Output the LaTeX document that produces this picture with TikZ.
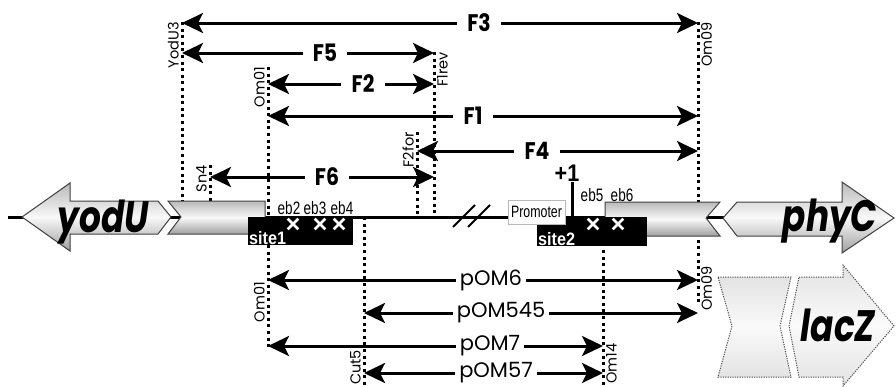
\documentclass[tikz,border=0pt]{standalone}
\usepackage{fontspec}
\setmainfont{Poppins}
\newfontfamily\condfont[FakeStretch=0.85]{Poppins}
\newfontfamily\genefont[FakeStretch=0.78]{Poppins}
\newfontfamily\narrowfont[FakeStretch=0.75]{Liberation Sans}
\newfontfamily\sitefont[FakeStretch=0.9]{Liberation Sans}
\usetikzlibrary{arrows.meta, positioning, shapes.misc}

\tikzset{
  dna/.style={line width=3pt},
  marker/.style={line width=3pt, dash pattern=on 3pt off 3.6pt},
  dim/.style={line width=3pt, -{Stealth[length=21pt, width=20pt, inset=5pt]}},
  flab/.style={fill=white, inner xsep=10pt, inner ysep=1pt, font=\condfont\bfseries\fontsize{24}{24}\selectfont},
  plab/.style={fill=white, inner xsep=4pt, inner ysep=0pt, font=\fontsize{21}{21}\selectfont},
  primer/.style={rotate=90, inner sep=0pt, font=\fontsize{14.5}{14.5}\selectfont},
  gene/.style={draw=black!75, line width=1pt, top color=gray!55, bottom color=gray!75, middle color=gray!5},
  lac/.style={draw=black!70, line width=1pt, dash pattern=on 1.2pt off 1.2pt, top color=gray!22, bottom color=gray!22, middle color=gray!4},
  genename/.style={anchor=base, font=\genefont\bfseries\itshape\fontsize{44}{44}\selectfont},
  site/.style={fill=black, inner sep=0pt, anchor=north west},
  sitelab/.style={text=white, inner sep=1pt, anchor=south west, font=\sitefont\bfseries\fontsize{18}{18}\selectfont},
  eb/.style={inner sep=0pt, font=\narrowfont\fontsize{18}{18}\selectfont},
  mut/.style={cross out, draw=white, line width=2.6pt, minimum size=8pt, inner sep=0pt}
}

\begin{document}
\begin{tikzpicture}[x=1pt, y=-1pt]
\useasboundingbox (0,0) rectangle (896,386);

% primer and clone end points
\coordinate (yodU3) at (182,22);
\coordinate (sn4) at (210,165);
\coordinate (om01) at (268,67);
\coordinate (cut5) at (364,217);
\coordinate (f2for) at (417,132);
\coordinate (f1rev) at (434,52);
\coordinate (om14) at (603,217);
\coordinate (om09) at (698,22);

\draw[marker] (yodU3) -- ++(0,179);
\draw[marker] (sn4) -- ++(0,36);
\draw[marker] (om01) -- ++(0,281);
\draw[marker] (cut5) -- ++(0,172);
\draw[marker] (f2for) -- ++(0,85);
\draw[marker] (f1rev) -- ++(0,165);
\draw[marker] (om14) -- ++(0,172);
\draw[marker] (om09) -- ++(0,282);

% the chromosome
\coordinate (dnaL) at (8,217);
\coordinate (dnaR) at (890,217);
\draw[dna] (dnaL) -- (dnaR);
\draw[line width=2pt] (453,227) -- (475,205) (468,227) -- (490,205); % break

% genes
\path[gene] (22,217) -- (70,183) -- (70,201) -- (158,201) -- (171,217) -- (158,234)
  -- (70,234) -- (70,251) -- cycle;
\path[gene] (168,201) -- (265,201) -- (265,234) -- (168,234) -- (181,217) -- cycle;
\path[gene] (605,202) -- (720,202) -- (706,218) -- (720,236) -- (605,236) -- cycle;
\path[gene] (723,218) -- (737,202) -- (842,202) -- (842,182) -- (894,218) -- (842,253)
  -- (842,236) -- (737,236) -- cycle;
\path[lac] (718,277) -- (791,277) -- (780,326) -- (791,377) -- (718,377) -- (732,326) -- cycle;
\path[lac] (799,277) -- (843,277) -- (843,265) -- (894,326) -- (843,386) -- (843,377)
  -- (799,377) -- (789,326) -- cycle;

\node[genename] (yodU) at (103,232) {yodU};
\node[genename] (phyC) at (830,231) {phyC};
\node[genename] (lacZ) at (838,341) {lacZ};

% binding sites
\node[site, minimum width=105pt, minimum height=28pt] (site1) at (248,217) {};
\node[site, minimum width=110pt, minimum height=29pt] (site2) at (537,217) {};
\node[sitelab] (lsite1) at (site1.south west) {site1};
\node[sitelab] (lsite2) at (site2.south west) {site2};

\node[mut] (x2) at (293,224) {};
\node[mut] (x3) at (320,224) {};
\node[mut] (x4) at (339,224) {};
\node[mut] (x5) at (593,224) {};
\node[mut] (x6) at (618,224) {};
\node[eb] (eb2) at (289,208) {eb2};
\node[eb] (eb3) at (315,208) {eb3};
\node[eb] (eb4) at (342,208) {eb4};
\node[eb] (eb5) at (592,195) {eb5};
\node[eb] (eb6) at (622,195) {eb6};

\node[draw=gray!55, fill=white, line width=1pt, minimum width=57pt, minimum height=24pt,
  inner sep=0pt, font=\narrowfont\fontsize{16.5}{16.5}\selectfont] (prom) at (536.5,212) {Promoter};
\coordinate (tss) at (572,217);
\draw[line width=3pt] (tss) -- ++(0,-35);
\node[inner sep=0pt, font=\sitefont\bfseries\fontsize{24}{24}\selectfont] (plus1) at (567,173.5) {+1};

% PCR fragments
\node[flab] (F3) at (479,23) {F3};
\draw[dim] (F3) -- (yodU3 |- F3);
\draw[dim] (F3) -- (om09 |- F3);
\node[flab] (F5) at (325,53) {F5};
\draw[dim] (F5) -- (yodU3 |- F5);
\draw[dim] (F5) -- (f1rev |- F5);
\node[flab] (F2) at (363,84) {F2};
\draw[dim] (F2) -- (om01 |- F2);
\draw[dim] (F2) -- (f1rev |- F2);
\node[flab] (F1) at (473,116) {F1};
\draw[dim] (F1) -- (om01 |- F1);
\draw[dim] (F1) -- (om09 |- F1);
\node[flab] (F4) at (537,151) {F4};
\draw[dim] (F4) -- (f2for |- F4);
\draw[dim] (F4) -- (om09 |- F4);
\node[flab] (F6) at (327,177) {F6};
\draw[dim] (F6) -- (sn4 |- F6);
\draw[dim] (F6) -- (f1rev |- F6);

% lacZ fusions
\node[plab] (pOM6) at (491,280) {pOM6};
\draw[dim] (pOM6) -- (om01 |- pOM6);
\draw[dim] (pOM6) -- (om09 |- pOM6);
\node[plab] (pOM545) at (501,313) {pOM545};
\draw[dim] (pOM545) -- (cut5 |- pOM545);
\draw[dim] (pOM545) -- (om09 |- pOM545);
\node[plab] (pOM7) at (490,346) {pOM7};
\draw[dim] (pOM7) -- (om01 |- pOM7);
\draw[dim] (pOM7) -- (om14 |- pOM7);
\node[plab] (pOM57) at (496,373) {pOM57};
\draw[dim] (pOM57) -- (cut5 |- pOM57);
\draw[dim] (pOM57) -- (om14 |- pOM57);

% primer names
\node[primer, anchor=south east] (lyodU3) at (179,22) {YodU3};
\node[primer, anchor=south east] (lom01a) at (265,67) {Om01};
\node[primer, anchor=south east] (lsn4) at (207,165) {Sn4};
\node[primer, anchor=north east] (lf1rev) at (437,52) {F1rev};
\node[primer, anchor=south east] (lf2for) at (414,132) {F2for};
\node[primer, anchor=north east] (lom09a) at (701,22) {Om09};
\node[primer, anchor=south east] (lom01b) at (265,282) {Om01};
\node[primer, anchor=north east] (lom09b) at (701,266) {Om09};
\node[primer, anchor=south west] (lcut5) at (361,385) {Cut5};
\node[primer, anchor=north west] (lom14) at (606,384) {Om14};
\end{tikzpicture}
\end{document}
